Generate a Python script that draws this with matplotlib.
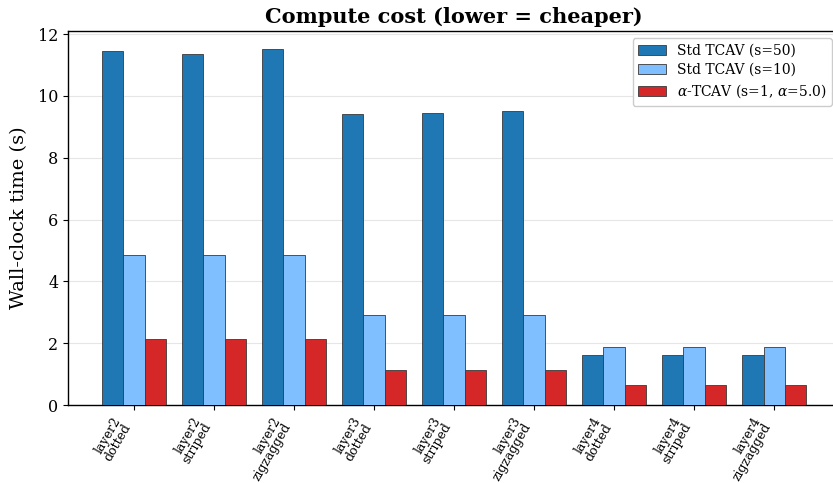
import numpy as np
import matplotlib
matplotlib.use("Agg")
import matplotlib.pyplot as plt

plt.rcParams['font.family'] = ['DejaVu Serif']
plt.rcParams['mathtext.fontset'] = 'dejavuserif'

categories = ["layer2\ndotted", "layer2\nstriped", "layer2\nzigzagged",
              "layer3\ndotted", "layer3\nstriped", "layer3\nzigzagged",
              "layer4\ndotted", "layer4\nstriped", "layer4\nzigzagged"]
std_s50 = [11.45, 11.36, 11.52, 9.42, 9.45, 9.51, 1.62, 1.61, 1.61]
std_s10 = [4.85, 4.85, 4.85, 2.91, 2.91, 2.91, 1.88, 1.88, 1.88]
alpha_tcav = [2.14, 2.13, 2.14, 1.13, 1.13, 1.13, 0.65, 0.64, 0.65]
series_labels = ["Std TCAV (s=50)", "Std TCAV (s=10)", r"$\alpha$-TCAV (s=1, $\alpha$=5.0)"]

colors = ["#1f77b4", "#80bfff", "#d62728"]

fig = plt.figure(figsize=(8.33, 4.83), dpi=100)
ax = fig.add_axes([68/833, 1-405/483, (839-68)/833, (405-31)/483])

x = np.arange(len(categories))
w = 0.8/3
for i, (vals, lab) in enumerate(zip([std_s50, std_s10, alpha_tcav], series_labels)):
    ax.bar(x + (i-1)*w, vals, w, color=colors[i], edgecolor="#3a3a3a",
           linewidth=0.6, label=lab, zorder=3)

ax.set_xlim(-0.825, 8.81)
ax.set_ylim(0, 12.1)
ax.set_yticks([0, 2, 4, 6, 8, 10, 12])
ax.tick_params(axis='y', labelsize=11.5)
ax.set_xticks(x)
ax.set_xticklabels(categories, rotation=60, ha='right', fontsize=9, linespacing=0.95)
ax.set_ylabel("Wall-clock time (s)", fontsize=14, labelpad=7)
ax.set_title("Compute cost (lower = cheaper)", fontsize=15, fontweight='bold', pad=6)
ax.yaxis.grid(True, color="#e6e6e6", linewidth=0.8, zorder=0)
ax.spines['right'].set_visible(False)
for s in ['left', 'bottom', 'top']:
    ax.spines[s].set_linewidth(1.0)
ax.legend(loc='upper right', fontsize=10, framealpha=1.0, edgecolor="#cccccc",
          labelspacing=0.4)

fig.savefig("out.png", dpi=100)
